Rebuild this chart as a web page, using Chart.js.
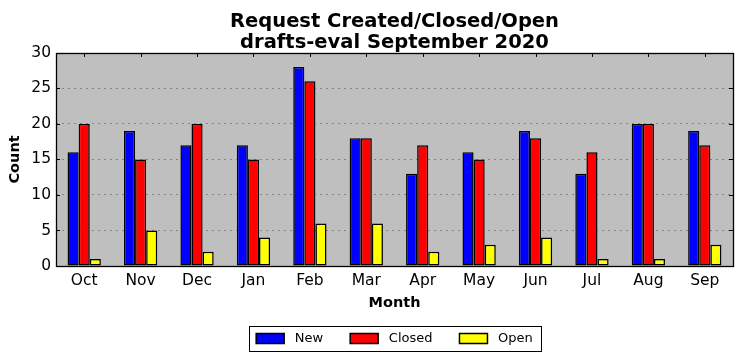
<!DOCTYPE html>
<html>
<head>
<meta charset="utf-8">
<script src="https://cdn.jsdelivr.net/npm/chart.js@4"></script>
<style>
  html, body { margin: 0; padding: 0; background: #fff; }
  #wrap { width: 742px; height: 361px; }
</style>
</head>
<body>
<div id="wrap"><canvas id="reqChart" width="742" height="361"></canvas></div>
<script>
const months = ['Oct', 'Nov', 'Dec', 'Jan', 'Feb', 'Mar', 'Apr', 'May', 'Jun', 'Jul', 'Aug', 'Sep'];
const newCounts = [16, 19, 17, 17, 28, 18, 13, 16, 19, 13, 20, 19];
const closedCounts = [20, 15, 20, 15, 26, 18, 17, 15, 18, 16, 20, 17];
const openCounts = [1, 5, 2, 4, 6, 6, 2, 3, 4, 1, 1, 3];
const yTicks = [0, 5, 10, 15, 20, 25, 30];

const FONT = 'DejaVu Sans';

// gray plot background, black frame, inward tick marks, legend border
const framePlugin = {
  id: 'frame',
  beforeDatasetsDraw(chart) {
    const a = chart.chartArea;
    const ctx = chart.ctx;
    ctx.save();
    ctx.globalCompositeOperation = 'destination-over';
    ctx.fillStyle = '#bfbfbf';
    ctx.fillRect(a.left, a.top, a.right - a.left, a.bottom - a.top);
    ctx.restore();
  },
  afterDatasetsDraw(chart) {
    const a = chart.chartArea;
    const ctx = chart.ctx;
    const xs = chart.scales.x, ys = chart.scales.y;
    ctx.save();
    ctx.strokeStyle = '#000';
    ctx.lineWidth = 1;
    ctx.beginPath();
    ys.ticks.forEach(function (t, i) {
      const y = Math.round(ys.getPixelForTick(i)) + 0.5;
      ctx.moveTo(a.left, y); ctx.lineTo(a.left + 4, y);
      ctx.moveTo(a.right, y); ctx.lineTo(a.right - 4, y);
    });
    xs.ticks.forEach(function (t, i) {
      const x = Math.round(xs.getPixelForTick(i)) + 0.5;
      ctx.moveTo(x, a.top); ctx.lineTo(x, a.top + 4);
    });
    ctx.stroke();
    ctx.lineWidth = 1.3;
    ctx.strokeRect(Math.round(a.left) + 0.5, Math.round(a.top) + 0.5,
      Math.round(a.right - a.left), Math.round(a.bottom - a.top));
    ctx.restore();
  },
  afterDraw(chart) {
    const boxes = chart.legend.legendHitBoxes;
    if (!boxes || !boxes.length) return;
    const first = boxes[0], last = boxes[boxes.length - 1];
    const ctx = chart.ctx;
    ctx.save();
    ctx.strokeStyle = '#000';
    ctx.lineWidth = 1;
    const l = Math.round(first.left) - 6.5;
    const r = Math.round(last.left + last.width) + 8.5;
    const t = Math.round(first.top) - 5.5;
    const b = Math.round(first.top + first.height) + 6.5;
    ctx.strokeRect(l, t, r - l, b - t);
    ctx.restore();
  }
};

new Chart(document.getElementById('reqChart').getContext('2d'), {
  type: 'bar',
  data: {
    labels: months,
    datasets: [
      { label: 'New', data: newCounts, backgroundColor: '#0000ff' },
      { label: 'Closed', data: closedCounts, backgroundColor: '#ff0000' },
      { label: 'Open', data: openCounts, backgroundColor: '#ffff00' }
    ]
  },
  options: {
    responsive: false,
    animation: false,
    layout: { padding: { left: 0, right: 9, top: 0, bottom: 6 } },
    datasets: {
      bar: {
        borderColor: '#000',
        borderWidth: 1.5,
        borderSkipped: false,
        barPercentage: 1,
        categoryPercentage: 0.59
      }
    },
    plugins: {
      title: {
        display: true,
        fullSize: false,
        text: ['Request Created/Closed/Open', 'drafts-eval September 2020'],
        color: '#000',
        font: { family: FONT, size: 19.5, weight: 'bold', lineHeight: 1.1 },
        padding: { top: 11, bottom: -1 }
      },
      legend: {
        position: 'bottom',
        fullSize: false,
        labels: {
          color: '#000',
          font: { family: FONT, size: 13 },
          boxWidth: 28,
          boxHeight: 10,
          padding: 27,
          generateLabels: function (chart) {
            // small leading space widens the swatch-to-text gap
            const items = Chart.defaults.plugins.legend.labels.generateLabels(chart);
            items.forEach(function (it) { it.text = ' ' + it.text; });
            return items;
          }
        }
      },
      tooltip: { enabled: false }
    },
    scales: {
      x: {
        offset: true,
        grid: { display: false, drawTicks: false },
        border: { display: false },
        ticks: { color: '#000', font: { family: FONT, size: 15.5 }, padding: 6 },
        title: {
          display: true,
          text: 'Month',
          color: '#000',
          font: { family: FONT, size: 14.5, weight: 'bold' },
          padding: { top: 0, bottom: -7 }
        },
        afterFit: function (scale) { scale.height = 39; }
      },
      y: {
        min: 0,
        max: 30,
        afterBuildTicks: function (scale) {
          scale.ticks = yTicks.map(function (v) { return { value: v }; });
        },
        grid: {
          drawTicks: false,
          lineWidth: 1,
          color: function (c) {
            return (c.tick && (c.tick.value === 0 || c.tick.value === 30)) ? 'rgba(0,0,0,0)' : '#858585';
          }
        },
        border: { display: false, dash: [2, 4] },
        ticks: { color: '#000', font: { family: FONT, size: 15.5 }, padding: 5 },
        title: {
          display: true,
          text: 'Count',
          color: '#000',
          font: { family: FONT, size: 14.5, weight: 'bold' },
          padding: { top: 7, bottom: 0 }
        },
        afterFit: function (scale) { scale.width = 56; }
      }
    }
  },
  plugins: [framePlugin]
});
</script>
</body>
</html>
